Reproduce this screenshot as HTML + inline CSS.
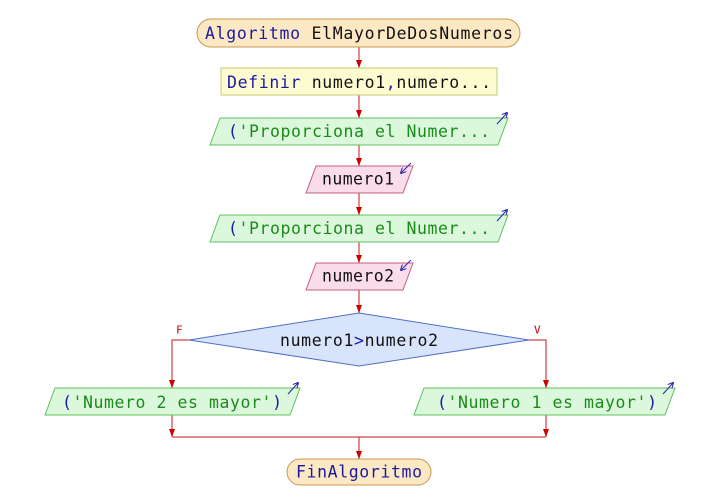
<!DOCTYPE html>
<html><head><meta charset="utf-8"><style>
html,body{margin:0;padding:0;background:#fff;width:710px;height:500px;overflow:hidden}
text{font-family:"DejaVu Sans Mono","Liberation Mono",monospace;font-size:16.5px;dominant-baseline:central}
.k{fill:#1a1aa0}.s{fill:#1a8a1a}.i{fill:#111}
</style></head><body>
<svg width="710" height="500" viewBox="0 0 710 500" xmlns="http://www.w3.org/2000/svg">
<defs><marker id="a" markerWidth="8" markerHeight="6" refX="8" refY="3" orient="auto" markerUnits="userSpaceOnUse"><path d="M0,0L8,3L0,6z" fill="#cc0000"/></marker>
<marker id="b" markerWidth="6" markerHeight="6" refX="5" refY="3" orient="auto" markerUnits="userSpaceOnUse"><path d="M0,0L6,3L0,6" fill="none" stroke="#2222aa"/></marker></defs>
<g stroke="#d04040" stroke-width="1.2" fill="none">
<line x1="359" y1="47" x2="359" y2="68" marker-end="url(#a)"/>
<line x1="359" y1="95" x2="359" y2="118" marker-end="url(#a)"/>
<line x1="359" y1="145" x2="359" y2="166" marker-end="url(#a)"/>
<line x1="359" y1="193" x2="359" y2="215" marker-end="url(#a)"/>
<line x1="359" y1="242" x2="359" y2="263" marker-end="url(#a)"/>
<line x1="359" y1="290" x2="359" y2="313" marker-end="url(#a)"/>
<polyline points="189,340 172,340 172,388" marker-end="url(#a)"/>
<polyline points="529,340 546,340 546,388" marker-end="url(#a)"/>
<line x1="172" y1="415" x2="172" y2="437" marker-end="url(#a)"/>
<line x1="546" y1="415" x2="546" y2="437" marker-end="url(#a)"/>
<line x1="172" y1="437" x2="546" y2="437"/>
<line x1="359" y1="437" x2="359" y2="459" marker-end="url(#a)"/>
</g>
<rect x="197" y="19" width="323" height="28" rx="14" fill="#fde8c4" stroke="#c89850"/>
<text x="205" y="33" textLength="308"><tspan class="k">Algoritmo </tspan><tspan class="i">ElMayorDeDosNumeros</tspan></text>
<rect x="221" y="68" width="276" height="27" fill="#fcfcd0" stroke="#c8c870"/>
<text x="227" y="82" textLength="264"><tspan class="k">Definir </tspan><tspan class="i">numero1</tspan><tspan class="k">,</tspan><tspan class="i">numero...</tspan></text>
<g fill="#dcf8dc" stroke="#60c060">
<polygon points="220,118 508,118 498,145 210,145"/>
<polygon points="220,215 508,215 498,242 210,242"/>
<polygon points="55,388 300,388 290,415 45,415"/>
<polygon points="424,388 675,388 665,415 414,415"/>
</g>
<g fill="#fadcea" stroke="#c06080">
<polygon points="316,166 413,166 403,193 306,193"/>
<polygon points="316,263 413,263 403,290 306,290"/>
</g>
<polygon points="359,313 529,340 359,366 189,340" fill="#d8e4fc" stroke="#5070c0"/>
<g stroke="#2222aa" stroke-width="1" fill="none">
<line x1="497" y1="124" x2="507" y2="113" marker-end="url(#b)"/>
<line x1="497" y1="221" x2="507" y2="210" marker-end="url(#b)"/>
<line x1="288" y1="394" x2="298" y2="383" marker-end="url(#b)"/>
<line x1="663" y1="394" x2="673" y2="383" marker-end="url(#b)"/>
<line x1="411" y1="163" x2="401" y2="173" marker-end="url(#b)"/>
<line x1="411" y1="260" x2="401" y2="270" marker-end="url(#b)"/>
</g>
<text x="228" y="131" textLength="262"><tspan class="k">(</tspan><tspan class="s">'Proporciona el Numer...</tspan></text>
<text x="228" y="228" textLength="262"><tspan class="k">(</tspan><tspan class="s">'Proporciona el Numer...</tspan></text>
<text x="322" y="179" class="i" textLength="72">numero1</text>
<text x="322" y="276" class="i" textLength="72">numero2</text>
<text x="280" y="340" class="i" textLength="158"><tspan class="i">numero1</tspan><tspan class="k">&gt;</tspan><tspan class="i">numero2</tspan></text>
<text x="62" y="402" textLength="220"><tspan class="k">(</tspan><tspan class="s">'Numero 2 es mayor'</tspan><tspan class="k">)</tspan></text>
<text x="437" y="402" textLength="220"><tspan class="k">(</tspan><tspan class="s">'Numero 1 es mayor'</tspan><tspan class="k">)</tspan></text>
<text x="176" y="330" style="font-size:11px;fill:#cc0000">F</text>
<text x="534" y="330" style="font-size:11px;fill:#cc0000">V</text>
<rect x="287" y="459" width="144" height="26" rx="13" fill="#fde8c4" stroke="#c89850"/>
<text x="296" y="472" class="k" textLength="126">FinAlgoritmo</text>
</svg>
</body></html>
